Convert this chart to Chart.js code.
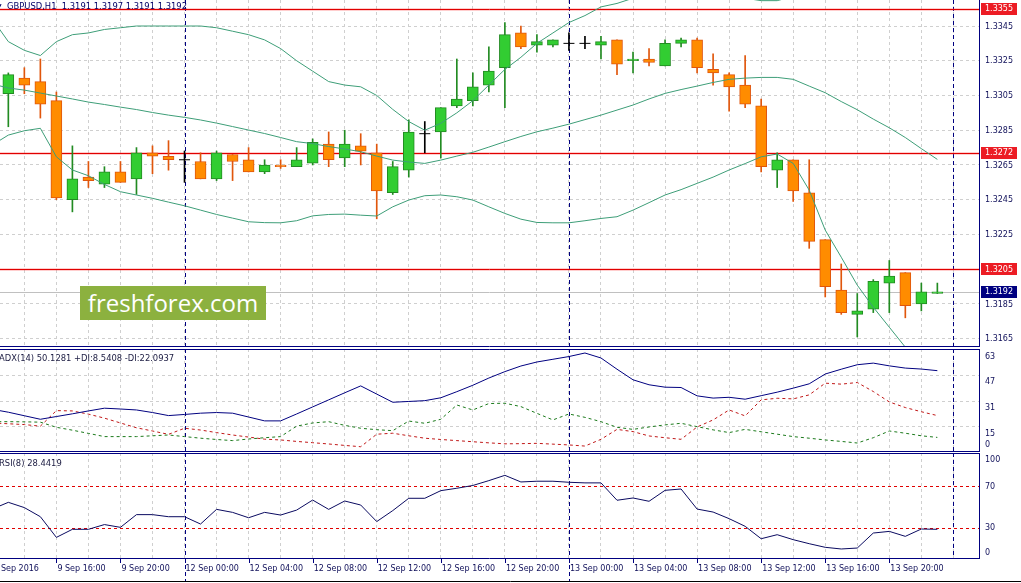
<!DOCTYPE html>
<html>
<head>
<meta charset="utf-8">
<title>GBPUSD,H1</title>
<script src="https://cdn.jsdelivr.net/npm/chart.js@4.4.1/dist/chart.umd.min.js"></script>
<style>
  html, body { margin: 0; padding: 0; background: #fff; }
  #wrap { position: relative; width: 1021px; height: 583px; overflow: hidden; background: #fff; }
  canvas { position: absolute; left: 0; }
  .txt { position: absolute; white-space: nowrap; font: 8.4px "DejaVu Sans", sans-serif; line-height: 10px; color: #000066; }
  #logo { position: absolute; left: 80px; top: 286px; width: 186px; height: 34px; background: #8cb13f; color: #fff;
          font: 24px "Open Sans", sans-serif; line-height: 33px; text-align: center; }
</style>
</head>
<body>
<div id="wrap">
  <canvas id="mainChart" width="1021" height="347" style="top:0"></canvas>
  <canvas id="adxChart" width="1021" height="103" style="top:349px"></canvas>
  <canvas id="rsiChart" width="1021" height="130" style="top:453px"></canvas>
  <div class="txt" style="left:-3px;top:1px;font-size:6px">&#9660;</div>
  <div class="txt" style="left:7px;top:1px">GBPUSD,H1&nbsp; 1.3191 1.3197 1.3191 1.3192</div>
  <div class="txt" style="left:-1px;top:353px;color:#1a1a40">ADX(14) 50.1281 +DI:8.5408 -DI:22.0937</div>
  <div class="txt" style="left:-1px;top:458px;color:#1a1a40">RSI(8) 28.4419</div>
  <div id="logo">freshforex.com</div>
</div>
<script>
// bar index 0 = 9 Sep 13:00, one bar per hour
const opens = [1.3306, 1.3315, 1.3313, 1.3302, 1.3245, 1.3258, 1.3254, 1.3261, 1.3257, 1.3272,
  1.3270, 1.3268, 1.3267, 1.3257, 1.3271, 1.3268, 1.3261, 1.3265, 1.3264, 1.3266,
  1.3277, 1.3269, 1.3276, 1.3272, 1.3249, 1.3262, 1.3283, 1.3284, 1.3299, 1.3302,
  1.3311, 1.3321, 1.3341, 1.3334, 1.3334, 1.3335, 1.3335, 1.3334, 1.3337, 1.3325,
  1.3326, 1.3322, 1.3335, 1.3337, 1.3320, 1.3317, 1.3311, 1.3299, 1.3262, 1.3268,
  1.3249, 1.3222, 1.3193, 1.3179, 1.3182, 1.3197, 1.3203, 1.3185, 1.3191];
const highs = [1.3318, 1.3321, 1.3326, 1.3307, 1.3276, 1.3267, 1.3264, 1.3267, 1.3275, 1.3276,
  1.3279, 1.3273, 1.3272, 1.3273, 1.3271, 1.3275, 1.3268, 1.3268, 1.3275, 1.3280,
  1.3284, 1.3285, 1.3283, 1.3277, 1.3267, 1.3291, 1.3290, 1.3298, 1.3326, 1.3318,
  1.3333, 1.3347, 1.3345, 1.3340, 1.3337, 1.3341, 1.3339, 1.3339, 1.3337, 1.3330,
  1.3332, 1.3337, 1.3338, 1.3338, 1.3329, 1.3318, 1.3328, 1.3303, 1.3272, 1.3268,
  1.3268, 1.3222, 1.3208, 1.3191, 1.3199, 1.3210, 1.3203, 1.3197, 1.3197];
const lows = [1.3287, 1.3306, 1.3292, 1.3245, 1.3238, 1.3252, 1.3252, 1.3255, 1.3248, 1.3260,
  1.3262, 1.3255, 1.3257, 1.3256, 1.3256, 1.3261, 1.3260, 1.3263, 1.3264, 1.3265,
  1.3264, 1.3264, 1.3265, 1.3234, 1.3248, 1.3258, 1.3272, 1.3269, 1.3298, 1.3299,
  1.3307, 1.3298, 1.3332, 1.3330, 1.3333, 1.3331, 1.3332, 1.3326, 1.3317, 1.3318,
  1.3322, 1.3322, 1.3333, 1.3318, 1.3311, 1.3296, 1.3298, 1.3261, 1.3252, 1.3244,
  1.3217, 1.3189, 1.3179, 1.3166, 1.3180, 1.3180, 1.3177, 1.3181, 1.3191];
const closes = [1.3317, 1.3311, 1.3300, 1.3246, 1.3257, 1.3256, 1.3261, 1.3255, 1.3272, 1.3270,
  1.3268, 1.3268, 1.3257, 1.3272, 1.3267, 1.3261, 1.3265, 1.3264, 1.3268, 1.3278,
  1.3268, 1.3277, 1.3273, 1.3250, 1.3264, 1.3284, 1.3283, 1.3298, 1.3303, 1.3310,
  1.3319, 1.3340, 1.3333, 1.3336, 1.3337, 1.3335, 1.3335, 1.3336, 1.3323, 1.3326,
  1.3324, 1.3335, 1.3337, 1.3321, 1.3318, 1.3310, 1.3300, 1.3264, 1.3268, 1.3250,
  1.3221, 1.3195, 1.3180, 1.3181, 1.3198, 1.3201, 1.3184, 1.3192, 1.3192];

// indicator series start one bar earlier (bar -1, just off the left edge)
const indicatorStart = -1;
const bandUpper = [1.3349, 1.3336, 1.3331, 1.3328, 1.3336, 1.3340, 1.3341, 1.3343, 1.3344, 1.3345,
  1.3345, 1.3345, 1.3345, 1.3345, 1.3344, 1.3342, 1.3340, 1.3337, 1.3332, 1.3325,
  1.3319, 1.3313, 1.3311, 1.3310, 1.3305, 1.3297, 1.3290, 1.3285, 1.3289, 1.3295,
  1.3302, 1.3311, 1.3320, 1.3327, 1.3335, 1.3341, 1.3347, 1.3351, 1.3356, 1.3358,
  1.3361, 1.3363, 1.3364, 1.3364, 1.3364, 1.3363, 1.3362, 1.3361, 1.33596, 1.33596,
  1.3362, 1.3366, 1.3372, 1.3378, 1.3384, 1.3388, 1.3390, 1.3392, 1.3393, 1.3394];
const bandMiddle = [1.33116, 1.33093, 1.33081, 1.33064, 1.33047, 1.33030, 1.33012, 1.32998, 1.32983, 1.32969,
  1.32952, 1.32937, 1.32924, 1.32909, 1.32891, 1.32871, 1.32851, 1.32831, 1.32808, 1.32784,
  1.32773, 1.32756, 1.32742, 1.32726, 1.32701, 1.32678, 1.32667, 1.32659, 1.32678, 1.32701,
  1.32723, 1.32753, 1.32784, 1.32814, 1.32841, 1.32862, 1.32885, 1.32911, 1.32937, 1.32966,
  1.32995, 1.33030, 1.33062, 1.33084, 1.33104, 1.33125, 1.33143, 1.33150, 1.33154, 1.33154,
  1.33143, 1.33104, 1.33066, 1.33015, 1.32968, 1.32914, 1.32864, 1.32808, 1.32744, 1.32682];
const bandLower = [1.32765, 1.32822, 1.32847, 1.32861, 1.32697, 1.32621, 1.32588, 1.32538, 1.32496, 1.32477,
  1.32458, 1.32436, 1.32415, 1.32390, 1.32365, 1.32344, 1.32323, 1.32318, 1.32317, 1.32329,
  1.32357, 1.32365, 1.32367, 1.32361, 1.32356, 1.32409, 1.32448, 1.32473, 1.32477, 1.32467,
  1.32448, 1.32409, 1.32371, 1.32338, 1.32319, 1.32317, 1.32317, 1.32329, 1.32342, 1.32352,
  1.32390, 1.32433, 1.32477, 1.32508, 1.32544, 1.32580, 1.32621, 1.32658, 1.32697, 1.32713,
  1.32659, 1.32505, 1.32275, 1.32119, 1.31958, 1.31831, 1.31716, 1.31601, 1.31497, 1.31394];

const adxMain = [26, 24.2, 22, 19.8, 21.5, 23.2, 25, 26.7, 26.2, 25.6,
  24, 22.1, 22.8, 23.6, 24, 23.6, 21.2, 18.8, 18.8, 23.1,
  27.5, 31.9, 36.3, 40.6, 35.5, 30.4, 30.9, 31.4, 33.2, 37,
  41, 45.5, 49.5, 53, 55.5, 57.2, 58.9, 61.1, 58, 51,
  44.4, 41.3, 39.8, 39.6, 34.4, 33, 33.5, 32.3, 34.5, 36.7,
  39.2, 41.9, 48, 51, 53.8, 54.8, 53.1, 51.7, 51.1, 50.1];
const plusDI = [18.3, 18.3, 18.2, 18, 14.8, 13, 11, 9, 9, 9,
  9.5, 10, 9, 8, 7.2, 6.5, 7.5, 8.3, 9, 15.5,
  17.5, 18.3, 16, 14.2, 13.3, 12.7, 18.7, 17.3, 19.8, 28.7,
  25.6, 29.6, 29.8, 27.7, 23.5, 19.4, 23.1, 21, 18.3, 14.8,
  13.5, 15, 16.3, 17.3, 15.2, 13.2, 11.5, 13.5, 12, 10.5,
  9, 8, 6.9, 6, 5, 8.3, 12.5, 11.1, 9.5, 8.5];
const minusDI = [17.5, 17, 16.5, 15.5, 25.2, 25, 23, 20.5, 17.5, 14.5,
  12.5, 10.4, 14.2, 13.1, 11.5, 10, 8.7, 7.4, 6.9, 6,
  5.2, 4.4, 3.5, 2.7, 10.5, 11.1, 9.5, 8, 7.2, 6.5,
  5.8, 5.1, 4.5, 4.6, 4.8, 4.3, 3.8, 3.1, 7.3, 13.5,
  12.1, 9.4, 8.3, 7.3, 15, 19.4, 25.6, 21.9, 31.9, 32.9,
  32.5, 35, 42.3, 41.7, 42.7, 37.1, 30.6, 27.1, 24.5, 22.1];
const rsiValues = [48, 54.5, 49.4, 40.6, 20.6, 28.4, 28.4, 33, 30.3, 42.6,
  42.6, 40.6, 40.6, 33.5, 47.7, 44.8, 39.6, 44.8, 42.2, 47,
  56.7, 47.7, 55.8, 51.9, 35.9, 46.5, 58.4, 58.4, 65.8, 68.1,
  70.8, 75.5, 80.6, 74.2, 74.9, 74.9, 73.9, 73.3, 73.3, 56.5,
  58.7, 55.5, 66.1, 67.4, 48, 45.1, 38.7, 31.3, 19.3, 23.2,
  18.4, 14.5, 11, 9.4, 10.3, 24.8, 26.4, 21.6, 28.7, 28.4];

const priceTicks = [1.3165, 1.3185, 1.3205, 1.3225, 1.3245, 1.3265, 1.3285, 1.3305, 1.3325, 1.3345];
const redLevels = [1.3355, 1.3272, 1.3205];
const bidPrice = 1.3192;
const adxTicks = [63, 47, 31, 15, 0];
const rsiTicks = [100, 70, 30, 0];
const rsiLevels = [70, 30];
const separatorBars = [11, 35, 59];
const xLabelBars = [-1, 3, 7, 11, 15, 19, 23, 27, 31, 35, 39, 43, 47, 51, 55];
const xLabelTexts = ['9 Sep 2016', '9 Sep 16:00', '9 Sep 20:00', '12 Sep 00:00', '12 Sep 04:00',
  '12 Sep 08:00', '12 Sep 12:00', '12 Sep 16:00', '12 Sep 20:00', '13 Sep 00:00', '13 Sep 04:00',
  '13 Sep 08:00', '13 Sep 12:00', '13 Sep 16:00', '13 Sep 20:00'];

const xMin = -0.52;
const xMax = 60.6;
const axisWidth = 42;
const gridBars = [];
for (let b = 1; b <= 59; b += 2) gridBars.push(b);

const navy = '#000080';
const labelColor = '#10105a';
const gridColor = '#cfcfcf';
const levelRed = '#e00000';
const axisFont = '8px "DejaVu Sans", sans-serif';
const upFill = '#32cd32', upLine = '#228b22';
const downFill = '#ff8c00', downLine = '#e0560c';

function series(values) {
  return values.map((v, k) => ({ x: k + indicatorStart, y: v }));
}

function baseOptions(yMin, yMax, yGrid, padBottom) {
  return {
    responsive: false,
    animation: false,
    devicePixelRatio: 1,
    layout: { autoPadding: false, padding: { left: 0, right: 0, top: 0, bottom: padBottom || 0 } },
    plugins: { legend: { display: false }, tooltip: { enabled: false } },
    events: [],
    scales: {
      x: {
        type: 'linear', min: xMin, max: xMax, offset: false,
        ticks: { display: false },
        grid: { color: gridColor, drawTicks: false, offset: false },
        border: { display: false, dash: [3, 3] },
        afterBuildTicks: s => { s.ticks = gridBars.map(v => ({ value: v })); }
      },
      y: {
        position: 'right', min: yMin, max: yMax,
        ticks: { display: false },
        grid: { color: gridColor, drawTicks: false, display: yGrid.length > 0 },
        border: { display: false, dash: [3, 3] },
        afterBuildTicks: s => { s.ticks = yGrid.map(v => ({ value: v })); },
        afterFit: s => { s.width = axisWidth; }
      }
    }
  };
}

function hLine(ctx, area, y, color, dash, width) {
  ctx.save();
  ctx.strokeStyle = color;
  ctx.lineWidth = width || 1;
  ctx.setLineDash(dash || []);
  ctx.beginPath();
  ctx.moveTo(area.left, Math.round(y) + 0.5);
  ctx.lineTo(area.right, Math.round(y) + 0.5);
  ctx.stroke();
  ctx.restore();
}

function separators(chart, extraBottom) {
  const ctx = chart.ctx, area = chart.chartArea, xs = chart.scales.x;
  ctx.save();
  ctx.strokeStyle = navy;
  ctx.lineWidth = 1;
  ctx.setLineDash([4, 3]);
  separatorBars.forEach(b => {
    const x = Math.round(xs.getPixelForValue(b)) + 0.5;
    const bottom = (extraBottom && b !== 59) ? extraBottom : area.bottom;
    ctx.beginPath();
    ctx.moveTo(x, area.top);
    ctx.lineTo(x, bottom);
    ctx.stroke();
  });
  ctx.restore();
}

function frame(chart, top, bottom) {
  const ctx = chart.ctx, area = chart.chartArea;
  ctx.save();
  ctx.strokeStyle = navy;
  ctx.lineWidth = 1;
  if (top) { ctx.beginPath(); ctx.moveTo(0, area.top + 0.5); ctx.lineTo(area.right, area.top + 0.5); ctx.stroke(); }
  if (bottom) { ctx.beginPath(); ctx.moveTo(0, area.bottom - 0.5); ctx.lineTo(area.right, area.bottom - 0.5); ctx.stroke(); }
  ctx.beginPath();
  ctx.moveTo(area.right + 0.5, area.top);
  ctx.lineTo(area.right + 0.5, area.bottom);
  ctx.stroke();
  ctx.restore();
}

function axisText(ctx, text, x, y, base, color) {
  ctx.save();
  ctx.font = axisFont;
  ctx.fillStyle = color || labelColor;
  ctx.textAlign = 'left';
  ctx.textBaseline = base || 'middle';
  ctx.fillText(text, x, y);
  ctx.restore();
}

function priceBox(ctx, area, y, text, bg) {
  ctx.save();
  ctx.fillStyle = bg;
  ctx.fillRect(area.right + 2, Math.round(y) - 6, 36, 12);
  ctx.restore();
  axisText(ctx, text, area.right + 6, y + 0.5, 'middle', '#ffffff');
}

// ---- main price panel ----
const bars = opens.map((o, i) => i);
const dojiBars = bars.filter(i => opens[i] === closes[i]);
const bodyBars = bars.filter(i => opens[i] !== closes[i]);
const wickColor = bars.map(i => closes[i] > opens[i] ? upLine : (closes[i] < opens[i] ? downLine : '#000000'));

const mainOptions = baseOptions(1.31602, 1.335997, priceTicks);

new Chart(document.getElementById('mainChart'), {
  type: 'bar',
  data: {
    datasets: [
      { type: 'line', data: series(bandUpper), borderColor: '#3e9e78', borderWidth: 1, pointRadius: 0, order: 0 },
      { type: 'line', data: series(bandMiddle), borderColor: '#3e9e78', borderWidth: 1, pointRadius: 0, order: 0 },
      { type: 'line', data: series(bandLower), borderColor: '#3e9e78', borderWidth: 1, pointRadius: 0, order: 0 },
      {
        type: 'line', data: dojiBars.map(i => ({ x: i, y: opens[i] })), showLine: false,
        pointStyle: 'line', pointRadius: 5.5, borderColor: '#000000', borderWidth: 1, order: 1
      },
      {
        data: bodyBars.map(i => ({ x: i, y: [opens[i], closes[i]] })),
        backgroundColor: bodyBars.map(i => closes[i] > opens[i] ? upFill : downFill),
        borderColor: bodyBars.map(i => closes[i] > opens[i] ? upLine : downLine),
        borderWidth: 1, borderSkipped: false, barThickness: 11, grouped: false, order: 2
      },
      {
        data: bars.map(i => ({ x: i, y: [lows[i], highs[i]] })),
        backgroundColor: wickColor, borderWidth: 0, barThickness: 1, grouped: false, order: 3
      }
    ]
  },
  options: mainOptions,
  plugins: [{
    id: 'mainDeco',
    beforeDatasetsDraw(chart) {
      const ctx = chart.ctx, area = chart.chartArea, ys = chart.scales.y;
      separators(chart);
      hLine(ctx, area, ys.getPixelForValue(bidPrice), '#c0c0c0');
      redLevels.forEach(p => {
        hLine(ctx, area, ys.getPixelForValue(p), 'rgba(255, 60, 60, 0.25)', [], 3);
        hLine(ctx, area, ys.getPixelForValue(p), levelRed);
      });
    },
    afterDraw(chart) {
      const ctx = chart.ctx, area = chart.chartArea, ys = chart.scales.y;
      frame(chart, false, true);
      priceTicks.forEach(p => axisText(ctx, p.toFixed(4), area.right + 6, ys.getPixelForValue(p) + 0.5));
      redLevels.forEach(p => priceBox(ctx, area, ys.getPixelForValue(p), p.toFixed(4), '#ec1c24'));
      priceBox(ctx, area, ys.getPixelForValue(bidPrice), bidPrice.toFixed(4), navy);
    }
  }]
});

// ---- ADX panel ----
new Chart(document.getElementById('adxChart'), {
  type: 'line',
  data: {
    datasets: [
      { data: series(adxMain), borderColor: navy, borderWidth: 1, pointRadius: 0 },
      { data: series(plusDI), borderColor: '#1c7a1c', borderWidth: 1, borderDash: [3, 3], pointRadius: 0 },
      { data: series(minusDI), borderColor: '#c01818', borderWidth: 1, borderDash: [3, 3], pointRadius: 0 }
    ]
  },
  options: baseOptions(-0.6, 63.6, [47, 31, 15]),
  plugins: [{
    id: 'adxDeco',
    beforeDatasetsDraw(chart) { separators(chart); },
    afterDraw(chart) {
      const ctx = chart.ctx, area = chart.chartArea, ys = chart.scales.y;
      frame(chart, true, true);
      adxTicks.forEach(v => {
        const y = ys.getPixelForValue(v);
        if (v === 0) axisText(ctx, String(v), area.right + 6, y - 2, 'bottom');
        else axisText(ctx, String(v), area.right + 6, Math.max(y, area.top) + 2.5, 'top');
      });
    }
  }]
});

// ---- RSI panel + time axis ----
new Chart(document.getElementById('rsiChart'), {
  type: 'line',
  data: {
    datasets: [
      { data: series(rsiValues), borderColor: '#0a0a60', borderWidth: 1, pointRadius: 0 }
    ]
  },
  options: baseOptions(-0.3, 102.2, [], 24),
  plugins: [{
    id: 'rsiDeco',
    beforeDatasetsDraw(chart) {
      const ctx = chart.ctx, area = chart.chartArea, ys = chart.scales.y;
      separators(chart, chart.height - 2);
      rsiLevels.forEach(v => hLine(ctx, area, ys.getPixelForValue(v), levelRed, [3, 3]));
    },
    afterDraw(chart) {
      const ctx = chart.ctx, area = chart.chartArea, ys = chart.scales.y, xs = chart.scales.x;
      frame(chart, true, true);
      rsiTicks.forEach(v => {
        const y = ys.getPixelForValue(v);
        if (v === 100) axisText(ctx, String(v), area.right + 6, y + 0.5, 'top');
        else if (v === 0) axisText(ctx, String(v), area.right + 6, y - 2, 'bottom');
        else axisText(ctx, String(v), area.right + 6, y + 0.5);
      });
      xLabelBars.forEach((b, k) => {
        const x = xs.getPixelForValue(b);
        ctx.save();
        ctx.strokeStyle = navy;
        ctx.beginPath();
        ctx.moveTo(Math.round(x) + 0.5, area.bottom);
        ctx.lineTo(Math.round(x) + 0.5, area.bottom + 4);
        ctx.stroke();
        ctx.restore();
        axisText(ctx, xLabelTexts[k], x + 1, area.bottom + 9.5);
      });
      ctx.save();
      ctx.strokeStyle = '#000000';
      ctx.beginPath();
      ctx.moveTo(0, chart.height - 1.5);
      ctx.lineTo(chart.width, chart.height - 1.5);
      ctx.stroke();
      ctx.restore();
    }
  }]
});
</script>
</body>
</html>
